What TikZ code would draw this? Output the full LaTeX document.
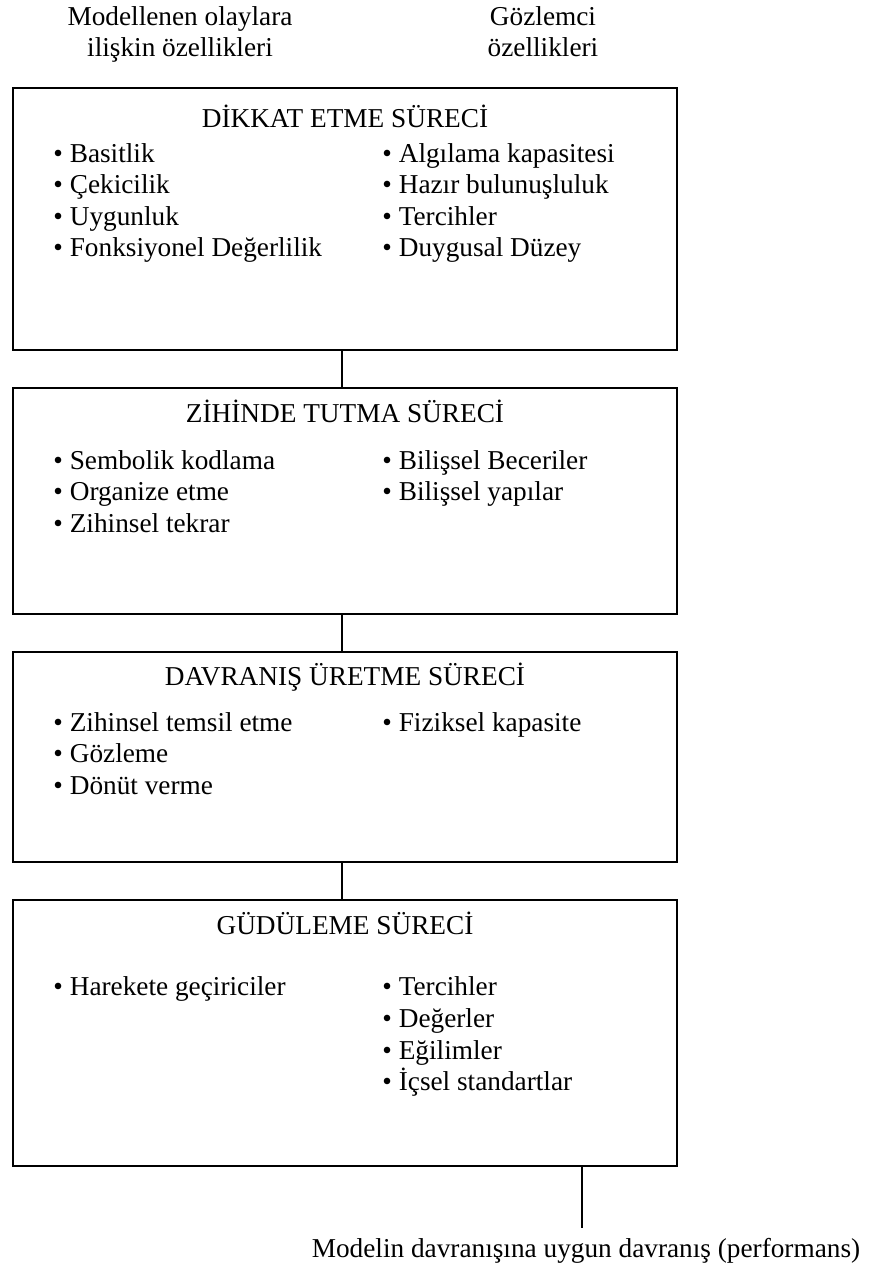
\documentclass[tikz,border=0pt]{standalone}
\usepackage{fontspec}
\setmainfont{Liberation Serif}
\begin{document}
\begin{tikzpicture}[x=0.44pt,y=-0.44pt,
  every node/.style={inner sep=0pt, font=\fontsize{12pt}{13.86pt}\selectfont},
  procbox/.style={draw, line width=0.9pt, minimum width=292.16pt},
  item/.style={anchor=base west},
  ttl/.style={anchor=base},
  link/.style={line width=0.8pt}]
\useasboundingbox (0,0) rectangle (880,1269);

% headers
\node[ttl] (h1a) at (180,25) {Modellenen olaylara};
\node[ttl] (h1b) at (180,56) {ilişkin özellikleri};
\node[ttl] (h2a) at (543,25) {Gözlemci};
\node[ttl] (h2b) at (543,56) {özellikleri};

% boxes
\node[procbox, minimum height=115.28pt] (b1) at (345,219) {};
\node[procbox, minimum height=99.44pt]  (b2) at (345,501) {};
\node[procbox, minimum height=92.4pt]   (b3) at (345,757) {};
\node[procbox, minimum height=117.04pt] (b4) at (345,1033) {};

% box 1
\node[ttl] (t1) at (345,127) {DİKKAT ETME SÜRECİ};
\node[item] (a1) at (53,162) {• Basitlik};
\node[item] (a2) at (53,193) {• Çekicilik};
\node[item] (a3) at (53,225) {• Uygunluk};
\node[item] (a4) at (53,256) {• Fonksiyonel Değerlilik};
\node[item] (a5) at (382,162) {• Algılama kapasitesi};
\node[item] (a6) at (382,193) {• Hazır bulunuşluluk};
\node[item] (a7) at (382,225) {• Tercihler};
\node[item] (a8) at (382,256) {• Duygusal Düzey};

% box 2
\node[ttl] (t2) at (345,422) {ZİHİNDE TUTMA SÜRECİ};
\node[item] (z1) at (53,469) {• Sembolik kodlama};
\node[item] (z2) at (53,500) {• Organize etme};
\node[item] (z3) at (53,532) {• Zihinsel tekrar};
\node[item] (z4) at (382,469) {• Bilişsel Beceriler};
\node[item] (z5) at (382,500) {• Bilişsel yapılar};

% box 3
\node[ttl] (t3) at (345,685) {DAVRANIŞ ÜRETME SÜRECİ};
\node[item] (d1) at (53,731) {• Zihinsel temsil etme};
\node[item] (d2) at (53,762) {• Gözleme};
\node[item] (d3) at (53,794) {• Dönüt verme};
\node[item] (d4) at (382,731) {• Fiziksel kapasite};

% box 4
\node[ttl] (t4) at (345,934) {GÜDÜLEME SÜRECİ};
\node[item] (g1) at (53,995) {• Harekete geçiriciler};
\node[item] (g2) at (382,995) {• Tercihler};
\node[item] (g3) at (382,1027) {• Değerler};
\node[item] (g4) at (382,1059) {• Eğilimler};
\node[item] (g5) at (382,1090) {• İçsel standartlar};

% connectors
\coordinate (cx) at (342,0);
\draw[link] (cx |- b1.south) -- (cx |- b2.north);
\draw[link] (cx |- b2.south) -- (cx |- b3.north);
\draw[link] (cx |- b3.south) -- (cx |- b4.north);
\coordinate (oend) at (582,1228);
\draw[link] (oend |- b4.south) -- (oend);
\node[ttl] (perf) at (586,1257) {Modelin davranışına uygun davranış (performans)};
\end{tikzpicture}
\end{document}
